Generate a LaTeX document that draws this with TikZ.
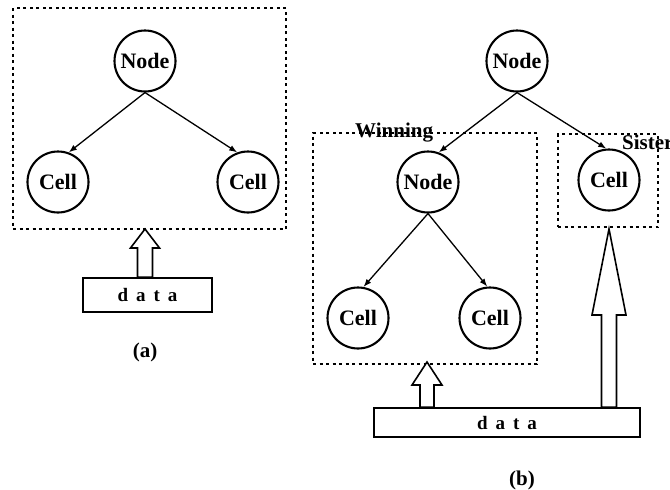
\documentclass[tikz,border=0pt]{standalone}
\usepackage{fontspec}
\setmainfont{Liberation Serif}
\usetikzlibrary{arrows.meta,calc}
\begin{document}
\begin{tikzpicture}[x=1pt,y=-1pt,
  circ/.style={circle,draw,line width=2.1pt,minimum size=61pt,inner sep=0pt,font=\fontsize{22}{26}\selectfont\bfseries},
  grp/.style={draw,line width=1.6pt,dash pattern=on 3pt off 3.5pt},
  link/.style={line width=1.3pt,-{Latex[length=8pt,width=6pt]}},
  databox/.style={draw,line width=1.6pt,inner sep=0pt,font=\fontsize{19}{22}\selectfont\bfseries},
  hollow/.style={draw,line width=1.6pt,fill=white,line join=miter},
  lbl/.style={font=\fontsize{21}{24}\selectfont\bfseries,inner sep=0pt},
  grplabel/.style={font=\fontsize{21}{24}\selectfont\bfseries,inner sep=0pt}
]
\useasboundingbox (0,0) rectangle (670,490);
\clip (0,0) rectangle (670,490);
\newcommand{\dataword}{d\hspace{8pt}a\hspace{8pt}t\hspace{8pt}a}

% ---------- (a) ----------
\node[grp,minimum width=273pt,minimum height=221pt,inner sep=0pt] (boxa) at (149.5,118.5) {};
\node[circ] (na) at (145,61) {Node};
\node[circ] (ca1) at (58,182) {Cell};
\node[circ] (ca2) at (248,182) {Cell};
\draw[link] (na.south) -- (ca1.70);
\draw[link] (na.south) -- (ca2.110);
\node[databox,minimum width=129pt,minimum height=34pt] (dataa) at (147.5,295) {\dataword};
\coordinate (tipa) at (145,229);
\coordinate (ra) at (152.5,0);
\coordinate (la) at (137.5,0);
\draw[hollow] (tipa) -- ($(tipa)+(14.5,19)$) -- ($(tipa)+(7.5,19)$) -- (dataa.north -| ra) -- (dataa.north -| la) -- ($(tipa)+(-7.5,19)$) -- ($(tipa)+(-14.5,19)$) -- cycle;
\node[lbl] (laba) at (145,352) {(a)};

% ---------- (b) ----------
\node[grp,minimum width=224pt,minimum height=231pt,inner sep=0pt] (win) at (425,248.5) {};
\node[grp,minimum width=100pt,minimum height=93pt,inner sep=0pt] (sis) at (608,180.5) {};
\node[grplabel,anchor=base west] (winlbl) at (355,137) {Winning};
\node[grplabel,anchor=base west] (sislbl) at (622,149) {Sister};
\node[circ] (nb) at (517,61) {Node};
\node[circ] (nb2) at (428,182) {Node};
\node[circ] (cs) at (609,180) {Cell};
\node[circ] (cb1) at (358,318) {Cell};
\node[circ] (cb2) at (490,318) {Cell};
\draw[link] (nb.south) -- (nb2.70);
\draw[link] (nb.south) -- (cs.95);
\draw[link] (nb2.south) -- (cb1.80);
\draw[link] (nb2.south) -- (cb2.95);
\node[databox,minimum width=266pt,minimum height=29pt] (datab) at (507,422.5) {\dataword};
\coordinate (tipb) at (427,362);
\coordinate (rb) at (434,0);
\coordinate (lb) at (420,0);
\draw[hollow] (tipb) -- ($(tipb)+(15,23)$) -- ($(tipb)+(7,23)$) -- (datab.north -| rb) -- (datab.north -| lb) -- ($(tipb)+(-7,23)$) -- ($(tipb)+(-15,23)$) -- cycle;
\coordinate (tipc) at (609,229);
\coordinate (rc) at (616.5,0);
\coordinate (lc) at (601.5,0);
\draw[hollow] (tipc) -- ($(tipc)+(17,86)$) -- ($(tipc)+(7.5,86)$) -- (datab.north -| rc) -- (datab.north -| lc) -- ($(tipc)+(-7.5,86)$) -- ($(tipc)+(-17,86)$) -- cycle;
\node[lbl] (labb) at (522,480) {(b)};
\end{tikzpicture}
\end{document}
